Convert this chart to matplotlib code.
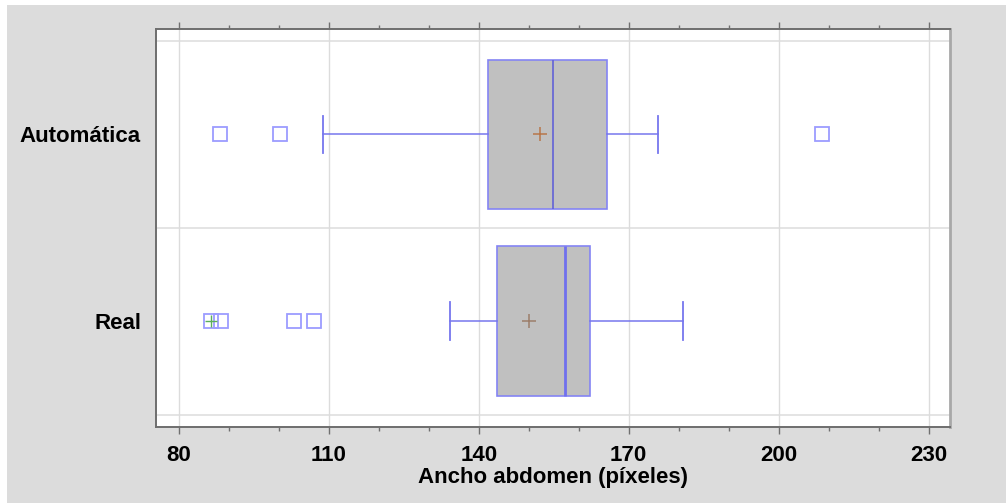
import matplotlib.pyplot as plt
from matplotlib.patches import Rectangle
from matplotlib.ticker import MultipleLocator

# Resumen de cada grupo (píxeles)
grupos = ["Real", "Automática"]
q1 = [143.7, 141.9]
mediana = [157.3, 154.9]
q3 = [162.3, 165.7]
bigote_inf = [134.2, 108.9]
bigote_sup = [180.9, 175.9]
media = [150.1, 152.3]
atipicos = [[88.5, 103.0, 107.1], [88.2, 100.3, 208.7]]
# puntos muy alejados (cuadro con cruz)
muy_atipicos = [[86.5], []]
marcas_x = [80, 110, 140, 170, 200, 230]

plt.rcParams['font.family'] = ['Liberation Sans', 'DejaVu Sans']
plt.rcParams['font.weight'] = 'bold'

fig = plt.figure(figsize=(10.06, 5.03), dpi=100, facecolor='white')
fig.patches.append(Rectangle((7 / 1006, 0), 1, 498 / 503, transform=fig.transFigure,
                             facecolor='#DCDCDC', edgecolor='none', zorder=-10))
ax = fig.add_axes([0.1554, 0.1517, 0.7886, 0.79])

stats = []
for i, g in enumerate(grupos):
    stats.append({
        'label': g, 'q1': q1[i], 'med': mediana[i], 'q3': q3[i],
        'whislo': bigote_inf[i], 'whishi': bigote_sup[i], 'mean': media[i],
        'fliers': atipicos[i] + muy_atipicos[i],
    })

linea = '#7676EE'
res = ax.bxp(stats, positions=[0, 1], widths=0.8, capwidths=0.2,
             orientation='horizontal', patch_artist=True, showmeans=True,
             boxprops=dict(facecolor='#C0C0C0', edgecolor='#8484F4', linewidth=1.2),
             medianprops=dict(color='#6262D6', linewidth=1.2),
             whiskerprops=dict(color=linea, linewidth=1.1),
             capprops=dict(color=linea, linewidth=1.3),
             flierprops=dict(marker='s', markersize=10.5, markerfacecolor='none',
                             markeredgecolor='#9C9CFF', markeredgewidth=1.3),
             meanprops=dict(marker='+', markersize=9.5, markeredgecolor='#B8764A',
                            markeredgewidth=1.1))

# la mediana y la media del grupo Real van con otro tono
res['medians'][0].set_color('#7070EE')
res['medians'][0].set_linewidth(2.0)
res['means'][0].set_markeredgecolor('#9C7E6A')

for i, pts in enumerate(muy_atipicos):
    if pts:
        ax.plot(pts, [i] * len(pts), linestyle='none', marker='+', markersize=8,
                markeredgecolor='#5BAE5B', markeredgewidth=1.0, zorder=4)

ax.set_xlim(75.5, 234.2)
ax.set_ylim(-0.565, 1.562)
ax.set_xticks(marcas_x)
ax.xaxis.set_minor_locator(MultipleLocator(10))
ax.set_yticks([0, 1])
ax.set_yticklabels(grupos, fontsize=16, fontweight='bold')

ax.grid(axis='x', which='major', color='#DCDCDC', linewidth=1.0)
for y in [-0.5, 0.5, 1.5]:
    ax.axhline(y, color='#E4E4E4', linewidth=1.4, zorder=0)
ax.set_axisbelow(True)

ax.tick_params(axis='x', which='both', top=True, bottom=True, direction='out',
               color='#707070', labelsize=16, pad=8)
ax.tick_params(axis='x', which='major', length=5, width=1.0)
ax.tick_params(axis='x', which='minor', length=3, width=1.0)
ax.tick_params(axis='y', length=0, pad=11)
for lab in ax.get_xticklabels():
    lab.set_fontweight('bold')

for s in ['left', 'bottom', 'top']:
    ax.spines[s].set_color('#6E6E6E')
    ax.spines[s].set_linewidth(1.4)
ax.spines['right'].set_color('#A8A8A8')
ax.spines['right'].set_linewidth(2.0)

ax.set_xlabel('Ancho abdomen (píxeles)', fontsize=16, fontweight='bold', labelpad=1)

fig.savefig('out.png', dpi=100, facecolor=fig.get_facecolor())
